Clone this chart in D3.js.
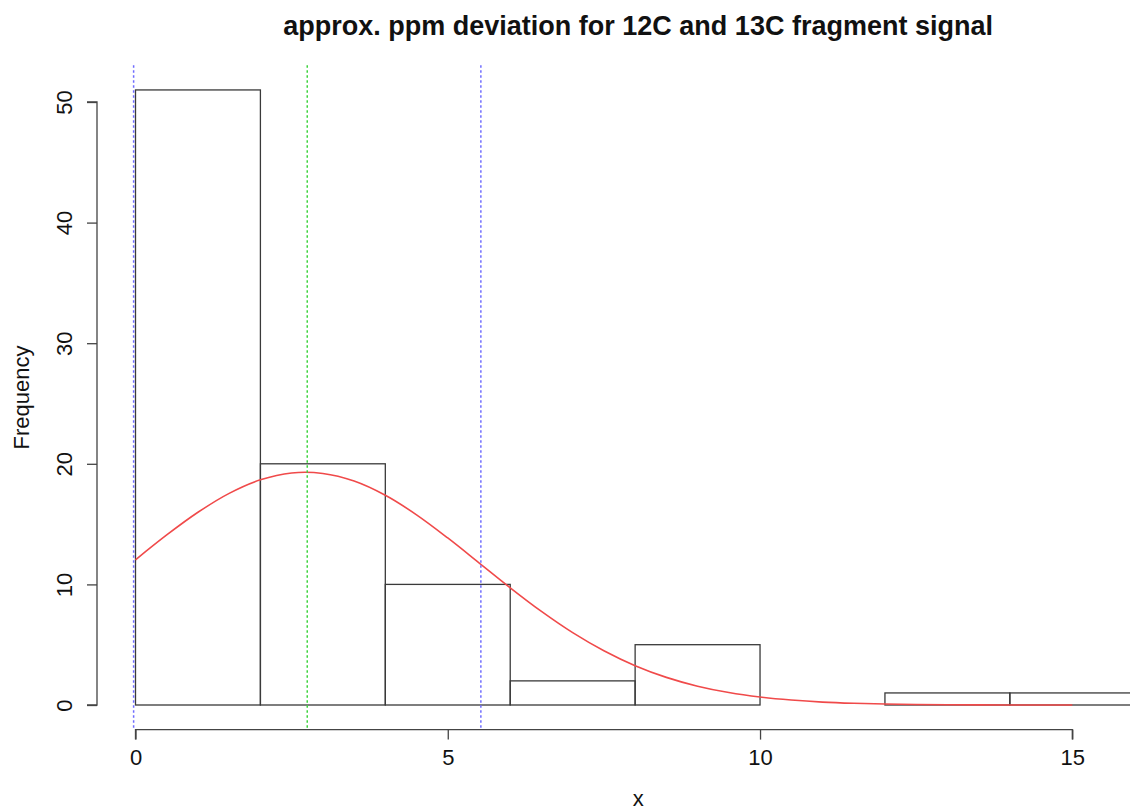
<!DOCTYPE html>
<html>
<head>
<meta charset="utf-8">
<script src="https://cdn.jsdelivr.net/npm/d3@7"></script>
<style>
  html, body { margin: 0; padding: 0; background: #fff; }
  svg { display: block; font-family: "Liberation Sans", Arial, Helvetica, sans-serif; }
</style>
</head>
<body>
<svg id="chart" width="1130" height="812"></svg>
<script>
// Histogram bins (break points) and counts per bin
const breaks = [0, 2, 4, 6, 8, 10, 12, 14, 16];
const counts = [51, 20, 10, 2, 5, 0, 1, 1];

// Fitted normal curve, sampled points (x, frequency)
const curveX = [0, 0.5, 1, 1.5, 2, 2.5, 3, 3.5, 4, 4.5, 5, 5.5, 6, 6.5, 7, 7.5,
                8, 8.5, 9, 9.5, 10, 10.5, 11, 11.5, 12, 12.5, 13, 13.5, 14, 14.5, 15];
const curveY = [12.04, 14.10, 15.98, 17.55, 18.67, 19.24, 19.20, 18.57, 17.39, 15.77,
                13.85, 11.79, 9.72, 7.76, 6.00, 4.50, 3.26, 2.29, 1.56, 1.03,
                0.66, 0.41, 0.24, 0.14, 0.08, 0.04, 0.02, 0.01, 0.005, 0.002, 0.001];

// Reference lines: mean (green) and mean ± sd (blue)
const meanLine = [2.75];
const sdLines = [-0.03, 5.53];

// Axis ticks
const xTicks = [0, 5, 10, 15];
const yTicks = [0, 10, 20, 30, 40, 50];

const titleText = "approx. ppm deviation for 12C and 13C fragment signal";
const xLabel = "x";
const yLabel = "Frequency";

const svg = d3.select("#chart");

// Scales: data range padded by 4% on each side, as in the plot region
const xDom = [0, 16];
const yDom = [0, 51];
const xPad = (xDom[1] - xDom[0]) * 0.04;
const yPad = (yDom[1] - yDom[0]) * 0.04;

const x = d3.scaleLinear().domain([0, 15]).range([135.5, 1072.3]);
const y = d3.scaleLinear().domain([0, 50]).range([705, 102]);

const plotLeft = x(xDom[0] - xPad), plotRight = x(xDom[1] + xPad);
const plotTop = y(yDom[1] + yPad), plotBottom = y(yDom[0] - yPad);

// Histogram bars
const bins = counts.map((c, i) => ({ x0: breaks[i], x1: breaks[i + 1], n: c }));
svg.append("g")
  .selectAll("rect")
  .data(bins)
  .join("rect")
  .attr("x", d => x(d.x0))
  .attr("y", d => y(d.n))
  .attr("width", d => x(d.x1) - x(d.x0))
  .attr("height", d => y(0) - y(d.n))
  .attr("fill", "none")
  .attr("stroke", "#3a3a3a")
  .attr("stroke-width", 1.3);

// Normal curve
const line = d3.line()
  .x((d, i) => x(curveX[i]))
  .y(d => y(d))
  .curve(d3.curveCatmullRom);
svg.append("path")
  .datum(curveY)
  .attr("d", line)
  .attr("fill", "none")
  .attr("stroke", "#f04a4a")
  .attr("stroke-width", 1.6);

// Vertical dotted reference lines across the plot region
function vlines(vals, color) {
  svg.append("g")
    .selectAll("line")
    .data(vals)
    .join("line")
    .attr("x1", d => x(d)).attr("x2", d => x(d))
    .attr("y1", plotTop).attr("y2", plotBottom)
    .attr("stroke", color)
    .attr("stroke-width", 1.5)
    .attr("stroke-dasharray", "2.5,2.5");
}
vlines(sdLines, "#6f6cff");
vlines(meanLine, "#3fd33f");

// X axis (below the plot region)
const xAxis = svg.append("g")
  .attr("transform", `translate(0,${plotBottom})`)
  .call(d3.axisBottom(x).tickValues(xTicks).tickSize(10).tickPadding(10).tickFormat(d3.format("d")));
xAxis.select(".domain").attr("d", `M${x(0)},10V0H${x(15)}V10`);

// Y axis (left of the plot region)
const yX = 97;
const yAxis = svg.append("g")
  .attr("transform", `translate(${yX},0)`)
  .call(d3.axisLeft(y).tickValues(yTicks).tickSize(10).tickPadding(0).tickFormat(d3.format("d")));
yAxis.select(".domain").attr("d", `M-10,${y(50)}H0V${y(0)}H-10`);
yAxis.selectAll(".tick text")
  .attr("x", null).attr("dy", null)
  .attr("transform", "translate(-33,0) rotate(-90)")
  .attr("text-anchor", "middle")
  .attr("dominant-baseline", "central");

svg.selectAll(".domain, .tick line").attr("stroke", "#444").attr("stroke-width", 1.3);
svg.selectAll(".tick text")
  .attr("font-size", 22)
  .attr("font-family", "Liberation Sans, Arial, sans-serif")
  .attr("fill", "#111");
xAxis.selectAll(".tick text").attr("dy", "0.71em");

// Title and axis labels
const midX = (plotLeft + plotRight) / 2;
svg.append("text")
  .attr("x", midX + 3).attr("y", 35)
  .attr("text-anchor", "middle")
  .attr("font-size", 27)
  .attr("font-weight", "bold")
  .attr("fill", "#111")
  .text(titleText);

svg.append("text")
  .attr("x", midX + 3).attr("y", 806)
  .attr("text-anchor", "middle")
  .attr("font-size", 22)
  .attr("fill", "#111")
  .text(xLabel);

svg.append("text")
  .attr("transform", `translate(29,${(y(0) + y(50)) / 2 - 6}) rotate(-90)`)
  .attr("text-anchor", "middle")
  .attr("font-size", 22)
  .attr("fill", "#111")
  .text(yLabel);
</script>
</body>
</html>
